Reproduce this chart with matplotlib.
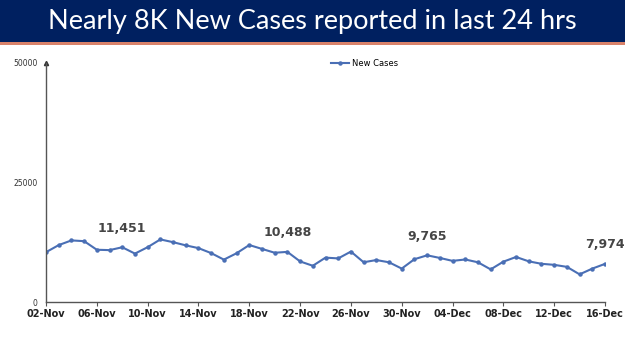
import matplotlib
matplotlib.use("Agg")
import matplotlib.pyplot as plt
from matplotlib.patches import Rectangle
import pandas as pd

# Daily new cases, 02-Nov to 16-Dec
dates = pd.date_range("2021-11-02", "2021-12-16", freq="D")
new_cases = [10423, 11903, 12885, 12729, 10929, 10853, 11451, 10126, 11466, 13091,
             12516, 11850, 11271, 10229, 8865, 10197, 11919, 11106, 10302, 10488,
             8488, 7579, 9283, 9119, 10549, 8318, 8774, 8309, 6990, 8954,
             9765, 9216, 8603, 8895, 8306, 6822, 8439, 9419, 8503, 7992,
             7774, 7350, 5784, 6984, 7974]
labelled_days = ["2021-11-08", "2021-11-21", "2021-12-02", "2021-12-16"]
y_ticks = [0, 25000, 50000]

title = "Nearly 8K New Cases reported in last 24 hrs"
line_blue = "#4A6FB5"

fig = plt.figure(figsize=(6.25, 3.51), dpi=100)

# title banner
fig.patches.append(Rectangle((0, 1 - 42 / 351), 1, 42 / 351, transform=fig.transFigure,
                             facecolor="#002060", edgecolor="none", zorder=0))
fig.patches.append(Rectangle((0, 1 - 44.5 / 351), 1, 2.5 / 351, transform=fig.transFigure,
                             facecolor="#D9826A", edgecolor="none", zorder=0))
fig.text(0.5, 1 - 21 / 351, title, color="white", fontsize=19.5, family="Lato",
         ha="center", va="center")

ax = fig.add_axes([46 / 625, 1 - 302 / 351, (605 - 46) / 625, (302 - 63) / 351])
x = list(range(len(dates)))
ax.plot(x, new_cases, color=line_blue, lw=1.5, marker="o", ms=2.2, label="New Cases")

for d in labelled_days:
    i = list(dates).index(pd.Timestamp(d))
    ax.annotate(f"{new_cases[i]:,}", (x[i], new_cases[i]), xytext=(0, 9),
                textcoords="offset points", ha="center", va="bottom",
                fontsize=9, fontweight="bold", color="#454545", family="DejaVu Sans")

ax.set_xlim(0, len(dates) - 1)
ax.set_ylim(0, 50000)
tick_pos = x[::4]
ax.set_xticks(tick_pos)
ax.set_xticklabels([dates[i].strftime("%d-%b") for i in tick_pos],
                   fontsize=7, fontweight="bold", color="#222222")
ax.set_yticks(y_ticks)
ax.set_yticklabels([str(v) for v in y_ticks], fontsize=5.5, color="#333333")
ax.tick_params(axis="x", length=3, width=0.8, color="#555555", pad=2)
ax.tick_params(axis="y", length=0, pad=6)

for s in ["top", "right"]:
    ax.spines[s].set_visible(False)
for s in ["left", "bottom"]:
    ax.spines[s].set_color("#555555")
    ax.spines[s].set_linewidth(1.0)
ax.plot(0, 1, marker="^", ms=3, color="#333333", transform=ax.transAxes, clip_on=False)

ax.legend(loc="upper center", bbox_to_anchor=(0.57, 1.05), frameon=False, fontsize=6,
          handlelength=2.2, handletextpad=0.3)

fig.savefig("out.png", dpi=100)
